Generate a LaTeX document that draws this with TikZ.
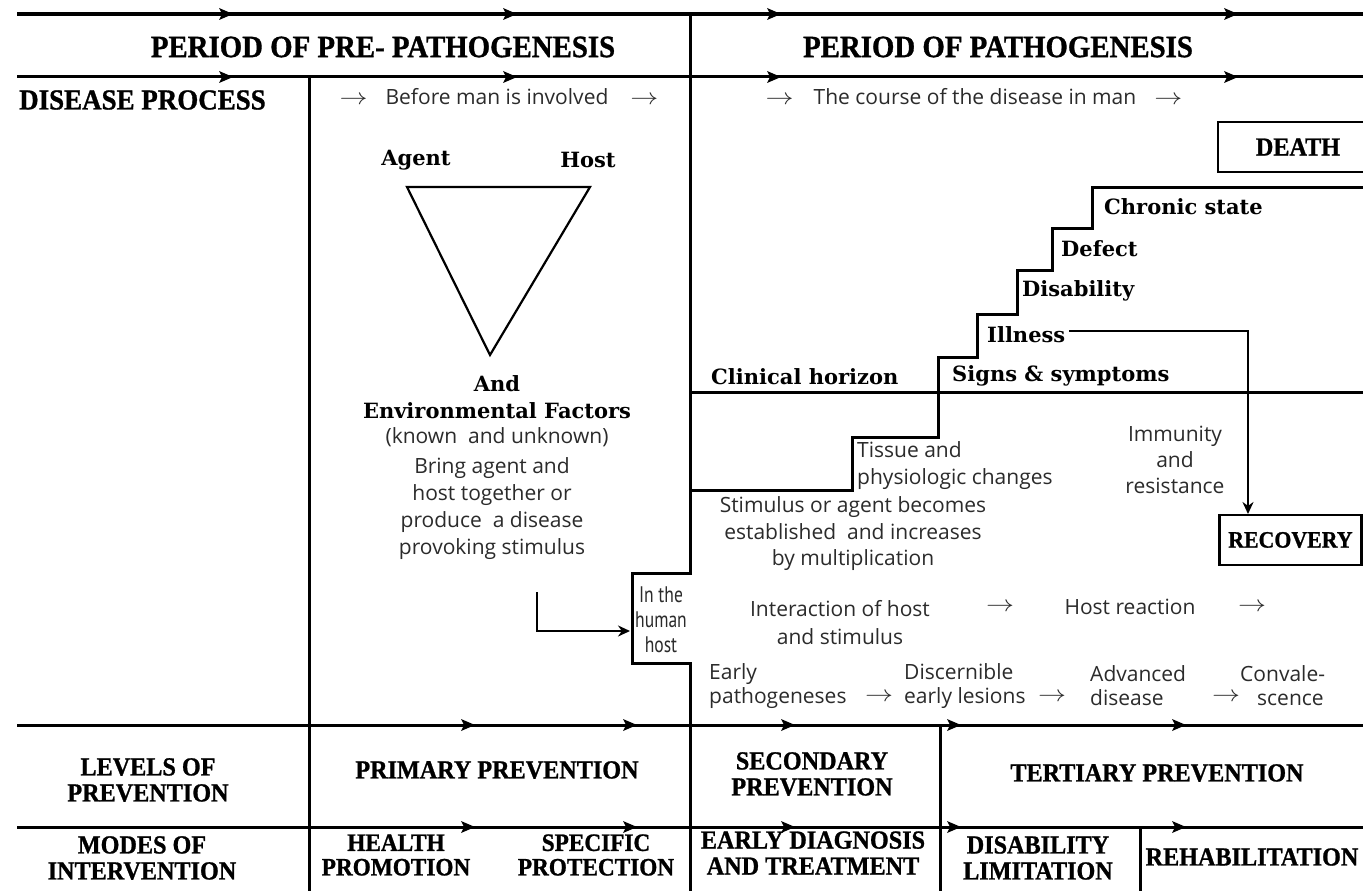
\documentclass[tikz,border=0pt]{standalone}
\usepackage{fontspec}
\setmainfont{Open Sans}
\newfontfamily\headfont[FakeStretch=0.93, BoldFeatures={FakeBold=1}]{Liberation Serif}
\newfontfamily\slabfont{DejaVu Serif}
\newfontfamily\narrowfont[FakeStretch=0.78]{PT Sans}
\usetikzlibrary{arrows.meta}
\definecolor{bodygray}{HTML}{2B2B2B}
\newcommand\goesto{\scalebox{1.35}[1.1]{$\rightarrow$}}

\tikzset{
  rule/.style={line width=3pt},
  heavy/.style={line width=3.6pt},
  head/.style={font=\headfont\bfseries\fontsize{31}{33}\selectfont},
  lowhead/.style={font=\headfont\bfseries\fontsize{26}{26}\selectfont, align=center, inner sep=0pt},
  tighthead/.style={font=\headfont\bfseries\fontsize{25}{24.5}\selectfont},
  slab/.style={font=\slabfont\bfseries\fontsize{21}{27}\selectfont, inner sep=0pt},
  body/.style={font=\fontsize{21}{27}\selectfont, text=bodygray, align=center, inner sep=0pt},
  boxed/.style={draw, line width=2.5pt, minimum height=50pt, inner xsep=9pt,
                font=\headfont\bfseries\fontsize{26}{28}\selectfont},
  midtip/.pic={\fill (-9,-6) -- (5,0) -- (-9,6) -- (-6,0) -- cycle;},
  conn/.style={line width=2.4pt, -{Stealth[length=12pt,width=11pt]}}
}

\begin{document}
\begin{tikzpicture}[x=1pt,y=-1pt]
\useasboundingbox (0,0) rectangle (1363,891);
\clip (0,0) rectangle (1363,891);
\fill[white] (0,0) rectangle (1363,891);

% ---- frame lines ----
\draw[heavy] (17,14) -- (1363,14);
\draw[rule] (17,77) -- (1363,77);
\draw[rule] (17,725) -- (1363,725);
\draw[rule] (17,827) -- (1363,827);
\draw[rule] (309,77) -- (309,891);
\draw[rule] (940,725) -- (940,891);
\draw[rule] (1140,827) -- (1140,891);

% direction marks along the horizontal rules
\foreach \ax in {228,512,776,1233} {
  \pic at (\ax,14) {midtip};
  \pic at (\ax,77) {midtip};
}
\foreach \ax in {470,632,790,956,1181} {
  \pic at (\ax,725) {midtip};
  \pic at (\ax,827) {midtip};
}

% ---- boundary between the two periods, with the human host box ----
\draw[rule, line join=miter] (690,14) -- (690,573) -- (632,573) -- (632,663) -- (690,663) -- (690,891);

% ---- clinical horizon and the staircase of the disease course ----
\draw[rule] (690,392) -- (1363,392);
\draw[rule, line join=miter] (690,490) -- (852,490) -- (852,437) -- (938,437) -- (938,357)
  -- (977,357) -- (977,314) -- (1017,314) -- (1017,270) -- (1052,270) -- (1052,228)
  -- (1092,228) -- (1092,187) -- (1363,187);

% ---- header ----
\node[head] (pre) at (383,47) {PERIOD OF PRE- PATHOGENESIS};
\node[head] (path) at (998,47) {PERIOD OF PATHOGENESIS};
\node[head, font=\headfont\bfseries\fontsize{29}{29}\selectfont, anchor=west, inner sep=0pt] (dp) at (19,100) {DISEASE PROCESS};
\node[body] (before) at (499,97) {\goesto\hspace{18pt}Before man is involved\hspace{22pt}\goesto};
\node[body] (course) at (974,97) {\goesto\hspace{20pt}The course of the disease in man\hspace{18pt}\goesto};

% ---- epidemiological triad ----
\node[slab] (agent) at (416,160) {Agent};
\node[slab] (host) at (588,160) {Host};
\draw[line width=2.2pt, line join=miter] (407,187) -- (590,187) -- (490,355) -- cycle;
\node[slab, align=center] (env) at (497,397) {And\\Environmental Factors};
\node[body] (known) at (497,437) {(known\ \ and unknown)};
\node[body] (bring) at (492,509) {Bring agent and\\host together or\\produce\ \ a disease\\provoking stimulus};

\node[body, font=\narrowfont\fontsize{22.5}{25}\selectfont] (hh) at (661,620) {In the\\human\\host};
\coordinate (bringout) at (537,592);
\coordinate (hhin) at (630,631);
\draw[conn] (bringout) |- (hhin);

% ---- stages above the clinical horizon ----
\node[slab, anchor=west] (chronic) at (1104,207) {Chronic state};
\node[slab, anchor=west] (defect) at (1061,249) {Defect};
\node[slab, anchor=west] (disab) at (1022,291) {Disability};
\node[slab, anchor=west] (ill) at (987,335) {Illness};
\node[slab, anchor=west] (signs) at (952,376) {Signs \& symptoms};
\node[slab, anchor=west] (clin) at (711,377) {Clinical horizon};

\node[boxed, minimum width=160pt] (death) at (1298,147) {DEATH};
\node[boxed, anchor=west, font=\headfont\bfseries\fontsize{23.5}{26}\selectfont] (rec) at (1218,540) {RECOVERY};
\coordinate (recin) at (1248,514);
\draw[conn] ([xshift=4pt,yshift=4pt]ill.east) -| (recin);

% ---- stages below the clinical horizon ----
\node[body, font=\fontsize{21}{26}\selectfont] (immun) at (1175,460) {Immunity\\and\\resistance};
\node[body, align=left, anchor=west] (tissue) at (857,466) {Tissue and\\physiologic changes};
\node[body, font=\fontsize{21}{26.5}\selectfont] (stim) at (853,534) {Stimulus or agent becomes\\established\ \ and increases\\by multiplication};
\node[body, font=\fontsize{21}{28}\selectfont] (inter) at (840,623) {Interaction of host\\and stimulus};
\node[body] (arr1) at (1000,607) {\goesto};
\node[body] (hostr) at (1130,607) {Host reaction};
\node[body] (arr2) at (1252,607) {\goesto};

\node[body, align=left, anchor=west, font=\fontsize{21}{24}\selectfont] (early) at (709,686) {Early\\pathogeneses};
\node[body] (arr3) at (879,697) {\goesto};
\node[body, align=left, anchor=west, font=\fontsize{21}{24}\selectfont] (disc) at (904,686) {Discernible\\early lesions};
\node[body] (arr4) at (1052,697) {\goesto};
\node[body, align=left, anchor=west, font=\fontsize{21}{24}\selectfont] (adv) at (1090,686) {Advanced\\disease};
\node[body] (arr5) at (1226,697) {\goesto};
\node[body, align=left, anchor=west, font=\fontsize{21}{24}\selectfont] (conv) at (1240,686) {Convale-\\\hspace*{17pt}scence};

% ---- levels of prevention ----
\node[lowhead] (lev) at (148,780) {LEVELS OF\\PREVENTION};
\node[lowhead] (prim) at (497,770) {PRIMARY PREVENTION};
\node[lowhead] (sec) at (812,774) {SECONDARY\\PREVENTION};
\node[lowhead] (ter) at (1157,773) {TERTIARY PREVENTION};

% ---- modes of intervention ----
\node[lowhead] (modes) at (142,858) {MODES OF\\INTERVENTION};
\node[lowhead, tighthead] (hp) at (396,855) {HEALTH\\PROMOTION};
\node[lowhead, tighthead] (sp) at (596,855) {SPECIFIC\\PROTECTION};
\node[lowhead] (edt) at (813,853) {EARLY DIAGNOSIS\\AND TREATMENT};
\node[lowhead] (dl) at (1038,858) {DISABILITY\\LIMITATION};
\node[lowhead] (reh) at (1252,857) {REHABILITATION};
\end{tikzpicture}
\end{document}
